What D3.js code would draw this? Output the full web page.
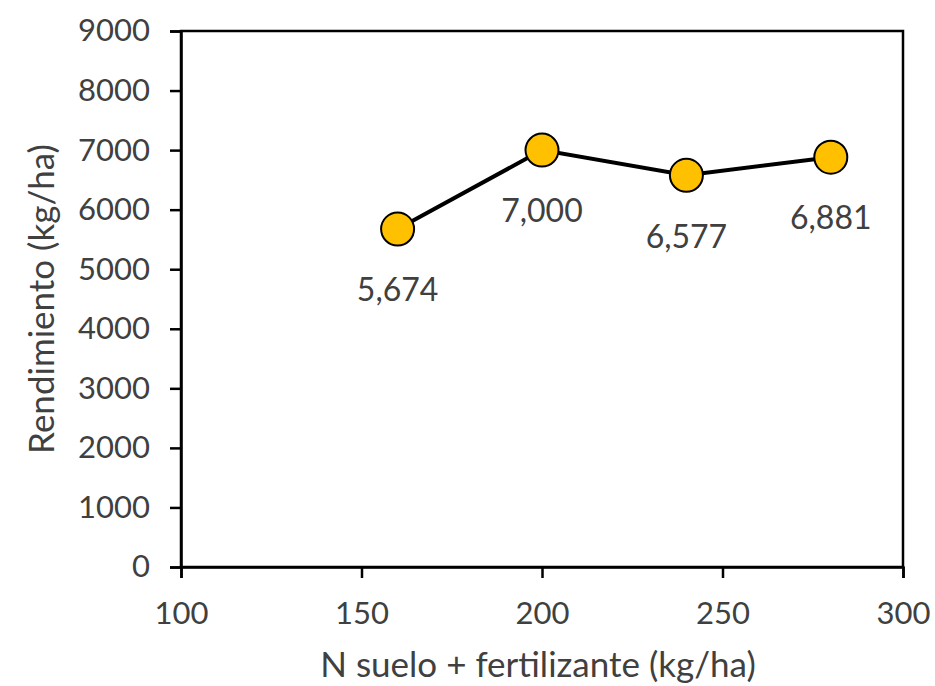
<!DOCTYPE html>
<html><head><meta charset="utf-8">
<script src="https://cdn.jsdelivr.net/npm/d3@7"></script>
<style>body{margin:0;background:#fff}svg{display:block}</style>
</head><body>
<svg id="c" width="935" height="686"></svg>
<script>
const nValues = [160, 200, 240, 280];
const yieldValues = [5674, 7000, 6577, 6881];
const xTicks = [100, 150, 200, 250, 300];
const yTicks = [0, 1000, 2000, 3000, 4000, 5000, 6000, 7000, 8000, 9000];
const xTitle = "N suelo + fertilizante (kg/ha)";
const yTitle = "Rendimiento (kg/ha)";

const svg = d3.select("#c");
const m = {left:181, right:903, top:31, bottom:567};
const x = d3.scaleLinear().domain([100,300]).range([m.left, m.right]);
const y = d3.scaleLinear().domain([0,9000]).range([m.bottom, m.top]);
const font = "Lato, 'Open Sans', sans-serif";
const txt = "#404040";

// frame
svg.append("rect").attr("x",m.left).attr("y",m.top).attr("width",m.right-m.left).attr("height",m.bottom-m.top)
  .attr("fill","none").attr("stroke","#000").attr("stroke-width",2.5);

const xa = svg.append("g").attr("transform",`translate(0,${m.bottom})`)
  .call(d3.axisBottom(x).tickValues(xTicks).tickSize(11).tickPadding(24).tickFormat(d3.format("d")));
const ya = svg.append("g").attr("transform",`translate(${m.left},0)`)
  .call(d3.axisLeft(y).tickValues(yTicks).tickSize(11).tickPadding(20).tickFormat(d3.format("d")));
[xa,ya].forEach(a=>{
  a.select(".domain").attr("stroke","#000").attr("stroke-width",2.5);
  a.selectAll(".tick line").attr("stroke","#000").attr("stroke-width",2.5);
  a.selectAll(".tick text").attr("fill",txt).style("font-family",font).style("font-size","31px");
});

const data = nValues.map((n,i)=>({n, v:yieldValues[i]}));
svg.append("path").datum(data)
  .attr("d", d3.line().x(d=>x(d.n)).y(d=>y(d.v)))
  .attr("fill","none").attr("stroke","#000").attr("stroke-width",4);
svg.selectAll("circle.pt").data(data).join("circle").attr("class","pt")
  .attr("cx",d=>x(d.n)).attr("cy",d=>y(d.v)).attr("r",16.5)
  .attr("fill","#FFC000").attr("stroke","#000").attr("stroke-width",2);
svg.selectAll("text.lbl").data(data).join("text").attr("class","lbl")
  .attr("x",d=>x(d.n)).attr("y",d=>y(d.v)+61).attr("dy","0.35em")
  .attr("text-anchor","middle").attr("fill",txt)
  .style("font-family",font).style("font-size","32px")
  .text(d=>d3.format(",")(d.v));

svg.append("text").attr("x",538).attr("y",677)
  .attr("text-anchor","middle").attr("fill",txt).style("font-family",font).style("font-size","35px")
  .text(xTitle);
svg.append("text").attr("transform",`translate(54,${(m.top+m.bottom)/2}) rotate(-90)`)
  .attr("text-anchor","middle").attr("fill",txt).style("font-family",font).style("font-size","35px")
  .text(yTitle);
</script>
</body></html>
